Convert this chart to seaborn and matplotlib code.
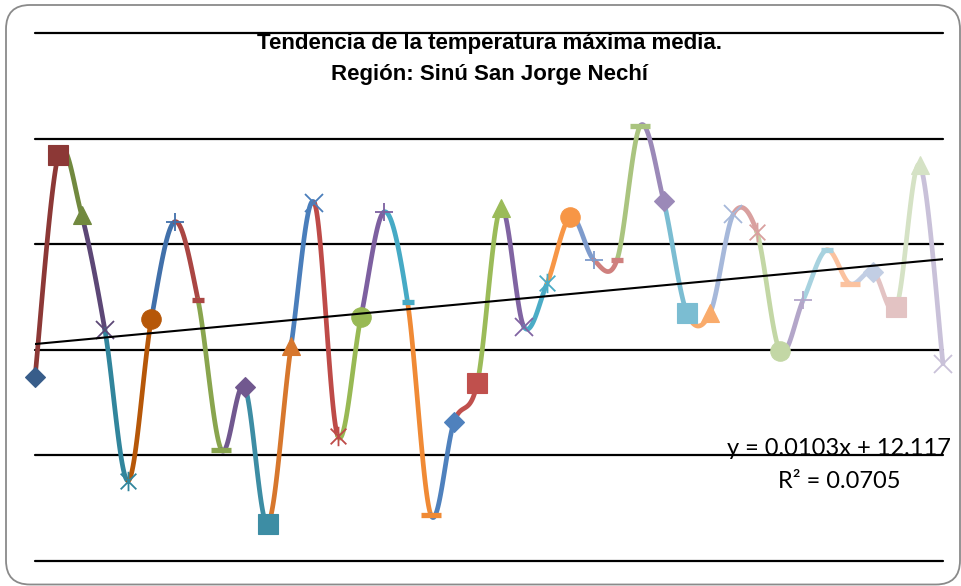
import numpy as np
import matplotlib
matplotlib.use("Agg")
import matplotlib.pyplot as plt
import seaborn as sns
import pandas as pd
from matplotlib.path import Path
from matplotlib.patches import FancyBboxPatch
from matplotlib.transforms import IdentityTransform

# ---------------- data ----------------
periods = list(range(1, 41))
temp_max = [11.97, 13.02, 12.74, 12.195, 11.48, 12.247, 12.706, 12.337, 11.627, 11.925,
            11.276, 12.119, 12.796, 11.693, 12.256, 12.753, 12.327, 11.319, 11.759, 11.944,
            12.772, 12.209, 12.417, 12.730, 12.526, 12.526, 13.161, 12.806, 12.275, 12.275,
            12.744, 12.659, 12.095, 12.337, 12.573, 12.413, 12.469, 12.304, 12.976, 12.034]
point_colors = ["#385D8A", "#8C3836", "#71893F", "#5C4776", "#31859C", "#B65708",
                "#4170AA", "#AA4643", "#89A54E", "#71588F", "#3D8DA4", "#D7772D",
                "#4A7EBB", "#BE4B48", "#98B954", "#7D60A0", "#46AAC5", "#F08A35",
                "#4F81BD", "#C0504D", "#9BBB59", "#8064A2", "#4BACC6", "#F79646",
                "#7E9BCC", "#CF807E", "#AAC47F", "#9B89B8", "#7BBDD2", "#F9AB6B",
                "#A6B8DA", "#D9A09F", "#C3D7A5", "#B3A6C9", "#A7D2DF", "#FBC29F",
                "#C2CEE4", "#E3C3C3", "#D5E2C5", "#C9C1D9"]
grid_values = [11.1, 11.6, 12.1, 12.6, 13.1, 13.6]
trend_slope = 0.0103
trend_intercept = 12.117
trend_r2 = 0.0705
title_lines = ["Tendencia de la temperatura máxima media.", "Región: Sinú San Jorge Nechí"]

# ---------------- style ----------------
sns.set_theme(style="white")
plt.rcParams['font.family'] = ['Liberation Sans', 'DejaVu Sans']

W, H = 962, 586
fig = plt.figure(figsize=(W / 100, H / 100), dpi=100)
fig.patch.set_facecolor("white")

# chart-area border with rounded corners
border = FancyBboxPatch((6, 1.5), 954, 579.5, boxstyle="round,pad=0,rounding_size=24",
                        transform=IdentityTransform(), facecolor="none",
                        edgecolor="#8a8a8a", linewidth=1.3)
fig.add_artist(border)

ax = fig.add_axes([35 / W, (H - 561) / H, 908 / W, 528 / H])
ax.set_xlim(1, 40)
ax.set_ylim(grid_values[0], grid_values[-1])
ax.axis("off")

for g in grid_values:
    ax.axhline(g, color="black", lw=1.6, zorder=1, clip_on=False)

# Excel-like smoothed segments (Bezier / Catmull-Rom)
x = np.array(periods, dtype=float)
y = np.array(temp_max, dtype=float)
P = np.column_stack([x, y])
t = np.linspace(0, 1, 40)[:, None]
for i in range(len(P) - 1):
    p0 = P[i - 1] if i > 0 else P[i]
    p1, p2 = P[i], P[i + 1]
    p3 = P[i + 2] if i + 2 < len(P) else P[i + 1]
    c1 = p1 + (p2 - p0) / 6.0
    c2 = p2 - (p3 - p1) / 6.0
    B = (1 - t) ** 3 * p1 + 3 * (1 - t) ** 2 * t * c1 + 3 * (1 - t) * t ** 2 * c2 + t ** 3 * p2
    ax.plot(B[:, 0], B[:, 1], color=point_colors[i + 1], lw=3.4,
            solid_capstyle="round", zorder=2, clip_on=False)

# markers
star_path = Path([(-0.5, -0.5), (0.5, 0.5), (-0.5, 0.5), (0.5, -0.5), (0, -0.62), (0, 0.62)],
                 [Path.MOVETO, Path.LINETO, Path.MOVETO, Path.LINETO, Path.MOVETO, Path.LINETO])
marker_cycle = [
    dict(marker="D", ms=10.2, filled=True),
    dict(marker="s", ms=14.5, filled=True),
    dict(marker="^", ms=13.5, filled=True),
    dict(marker="x", ms=13.0, filled=False, mew=1.3),
    dict(marker=star_path, ms=14.0, filled=False, mew=1.3),
    dict(marker="o", ms=14.0, filled=True),
    dict(marker="+", ms=13.5, filled=False, mew=1.3),
    dict(marker="_", ms=9.0, filled=False, mew=3.8),
    dict(marker="_", ms=14.5, filled=False, mew=3.8),
]
for i, (xi, yi) in enumerate(zip(periods, temp_max)):
    m = marker_cycle[i % len(marker_cycle)]
    c = point_colors[i]
    if m["filled"]:
        ax.plot([xi], [yi], linestyle="none", marker=m["marker"], ms=m["ms"],
                mfc=c, mec=c, mew=0.8, zorder=3, clip_on=False)
    else:
        ax.plot([xi], [yi], linestyle="none", marker=m["marker"], ms=m["ms"],
                mec=c, mew=m["mew"], zorder=3, clip_on=False)

# linear trendline
trend_df = pd.DataFrame({"x": [periods[0], periods[-1]]})
trend_df["y"] = trend_slope * trend_df["x"] + trend_intercept
sns.lineplot(data=trend_df, x="x", y="y", ax=ax, color="black", lw=1.5, zorder=4)
ax.axis("off")

# trendline label
eq_font = ['Lato', 'DejaVu Sans']
fig.text(839 / W, (H - 455) / H, f"y = {trend_slope}x + {trend_intercept}",
         ha="center", va="baseline", fontsize=17, family=eq_font, color="black")
fig.text(839 / W, (H - 488) / H, f"R² = {trend_r2}",
         ha="center", va="baseline", fontsize=17, family=eq_font, color="black")

# title
title_font = ['Liberation Sans', 'DejaVu Sans']
fig.text(490 / W, (H - 49) / H, title_lines[0], ha="center", va="baseline",
         fontsize=16, fontweight="bold", family=title_font, color="black")
fig.text(490 / W, (H - 80) / H, title_lines[1], ha="center", va="baseline",
         fontsize=16, fontweight="bold", family=title_font, color="black")

fig.savefig("out.png", dpi=100, facecolor="white")
